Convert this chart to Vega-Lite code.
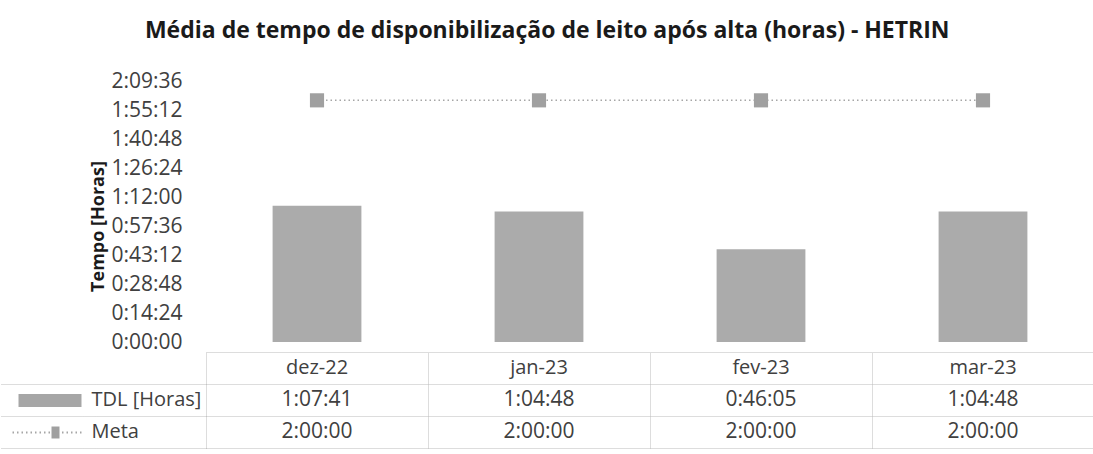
{
  "$schema": "https://vega.github.io/schema/vega-lite/v6.json",
  "padding": {"top": 20, "left": 0, "right": 0, "bottom": 0},
  "background": "white",
  "title": {"text": "Média de tempo de disponibilização de leito após alta (horas) - HETRIN", "font": "Open Sans", "fontSize": 23, "fontWeight": "bold", "color": "#1a1a1a", "anchor": "middle", "offset": 27},
  "config": {"view": {"stroke": null}, "font": "Open Sans", "axisY": {"labelOverlap": false},
    "axisQuantitative": {"labelOverlap": false}},
  "datasets": {
    "d": [
      {"mes": "dez-22", "tdl": 4061000, "meta": 7200000},
      {"mes": "jan-23", "tdl": 3888000, "meta": 7200000},
      {"mes": "fev-23", "tdl": 2765000, "meta": 7200000},
      {"mes": "mar-23", "tdl": 3888000, "meta": 7200000}
    ]
  },
  "spacing": 0,
  "vconcat": [
    {
      "width": 888,
      "height": 261,
      "data": {"name": "d"},
      "encoding": {
        "x": {"field": "mes", "type": "nominal", "sort": null, "scale": {"domain": ["dez-22", "jan-23", "fev-23", "mar-23"], "paddingInner": 0.6, "paddingOuter": 0.3}, "axis": null}
      },
      "layer": [
        {
          "mark": {"type": "bar", "color": "#ababab"},
          "encoding": {
            "y": {"field": "tdl", "type": "quantitative", "title": "Tempo [Horas]",
              "scale": {"domain": [0, 7776000], "nice": false, "zero": true},
              "axis": {"values": [0, 864000, 1728000, 2592000, 3456000, 4320000, 5184000, 6048000, 6912000, 7776000],
                "labelExpr": "utcFormat(datum.value, '%-H:%M:%S')", "labelOverlap": false,
                "grid": false, "domain": false, "ticks": false, "tickSize": 0, "labelPadding": 24,
                "labelFontSize": 21, "labelColor": "#404040", "labelFont": "Open Sans",
                "titleFont": "Open Sans", "titleFontSize": 18, "titleFontWeight": "bold", "titleColor": "#1a1a1a", "titlePadding": 3, "titleY": 145}}
          }
        },
        {
          "mark": {"type": "line", "color": "#a6a6a6", "strokeWidth": 1.5, "strokeDash": [1.5, 3]},
          "encoding": {"y": {"field": "meta", "type": "quantitative", "title": "Tempo [Horas]",
              "axis": {"values": [0, 864000, 1728000, 2592000, 3456000, 4320000, 5184000, 6048000, 6912000, 7776000],
                "labelExpr": "utcFormat(datum.value, '%-H:%M:%S')", "labelOverlap": false,
                "grid": false, "domain": false, "ticks": false, "tickSize": 0, "labelPadding": 24,
                "labelFontSize": 21, "labelColor": "#404040", "labelFont": "Open Sans",
                "titleFont": "Open Sans", "titleFontSize": 18, "titleFontWeight": "bold", "titleColor": "#1a1a1a", "titlePadding": 3, "titleY": 145}}}
        },
        {
          "mark": {"type": "square", "filled": true, "size": 200, "color": "#a0a0a0", "opacity": 1},
          "encoding": {"y": {"field": "meta", "type": "quantitative", "title": "Tempo [Horas]",
              "axis": {"values": [0, 864000, 1728000, 2592000, 3456000, 4320000, 5184000, 6048000, 6912000, 7776000],
                "labelExpr": "utcFormat(datum.value, '%-H:%M:%S')", "labelOverlap": false,
                "grid": false, "domain": false, "ticks": false, "tickSize": 0, "labelPadding": 24,
                "labelFontSize": 21, "labelColor": "#404040", "labelFont": "Open Sans",
                "titleFont": "Open Sans", "titleFontSize": 18, "titleFontWeight": "bold", "titleColor": "#1a1a1a", "titlePadding": 3, "titleY": 145}}}
        }
      ]
    },
    {
      "width": 888,
      "height": 96,
      "data": {"name": "d"},
      "transform": [{"fold": ["tdl", "meta"], "as": ["linha", "valor"]}],
      "encoding": {
        "x": {"field": "mes", "type": "nominal", "sort": null,
          "scale": {"domain": ["dez-22", "jan-23", "fev-23", "mar-23"], "paddingInner": 0, "paddingOuter": 0},
          "axis": {"orient": "bottom", "title": null, "labels": false, "ticks": false, "domain": false,
            "grid": true, "gridColor": "#bbbbbb", "gridDash": [1, 1], "tickBand": "extent"}}
      },
      "resolve": {"axis": {"y": "independent"}},
      "layer": [
        {
          "mark": {"type": "text", "fontSize": 21, "color": "#404040", "font": "Open Sans"},
          "encoding": {
            "y": {"field": "linha", "type": "nominal", "sort": null,
              "scale": {"domain": ["cab", "tdl", "meta"], "paddingInner": 0, "paddingOuter": 0},
              "axis": {"orient": "left", "title": null, "labels": false, "domain": false, "ticks": true, "tickSize": 205,
                "tickColor": "#bbbbbb", "tickDash": [1, 1],
                "tickOpacity": {"condition": {"test": "datum.value == null", "value": 0}, "value": 1},
                "tickBand": "extent", "grid": true, "gridColor": "#bbbbbb", "gridDash": [1, 1]}},
            "text": {"field": "valor", "type": "temporal", "timeUnit": "utchoursminutesseconds", "format": "%-H:%M:%S"}
          }
        },
        {
          "transform": [{"filter": "datum.linha === 'tdl'"}],
          "mark": {"type": "text", "fontSize": 20, "color": "#404040", "font": "Open Sans"},
          "encoding": {
            "y": {"datum": "cab", "type": "nominal", "axis": null},
            "text": {"field": "mes", "type": "nominal"}
          }
        },
        {
          "mark": {"type": "text", "opacity": 0},
          "encoding": {
            "y": {"field": "linha", "type": "nominal",
              "axis": {"orient": "left", "offset": 125, "title": null, "labels": false, "domain": false, "ticks": true,
                "tickSize": {"condition": {"test": "datum.value === 'meta'", "value": 72}, "value": 63},
                "tickWidth": {"condition": {"test": "datum.value === 'meta'", "value": 2}, "value": 13},
                "tickDash": {"condition": {"test": "datum.value === 'meta'", "value": [1.5, 3]}, "value": [1, 0]},
                "tickColor": "#a6a6a6",
                "tickOpacity": {"condition": {"test": "datum.value === 'cab'", "value": 0}, "value": 1}}},
            "text": {"value": ""}
          }
        },
        {
          "mark": {"type": "text", "opacity": 0},
          "encoding": {
            "y": {"field": "linha", "type": "nominal",
              "axis": {"orient": "left", "offset": 147, "title": null, "labels": false, "domain": false, "ticks": true,
                "tickSize": 8, "tickWidth": 12, "tickColor": "#a0a0a0",
                "tickOpacity": {"condition": {"test": "datum.value === 'meta'", "value": 1}, "value": 0}}},
            "text": {"value": ""}
          }
        },
        {
          "mark": {"type": "text", "opacity": 0},
          "encoding": {
            "y": {"field": "linha", "type": "nominal",
              "axis": {"orient": "left", "offset": 0, "title": null, "domain": false, "ticks": false, "tickSize": 0,
                "labelAlign": "left", "labelPadding": 115, "labelFontSize": 20, "labelColor": "#404040", "labelFont": "Open Sans",
                "labelExpr": "datum.value === 'tdl' ? 'TDL [Horas]' : datum.value === 'meta' ? 'Meta' : ''"}},
            "text": {"value": ""}
          }
        }
      ]
    }
  ]
}
